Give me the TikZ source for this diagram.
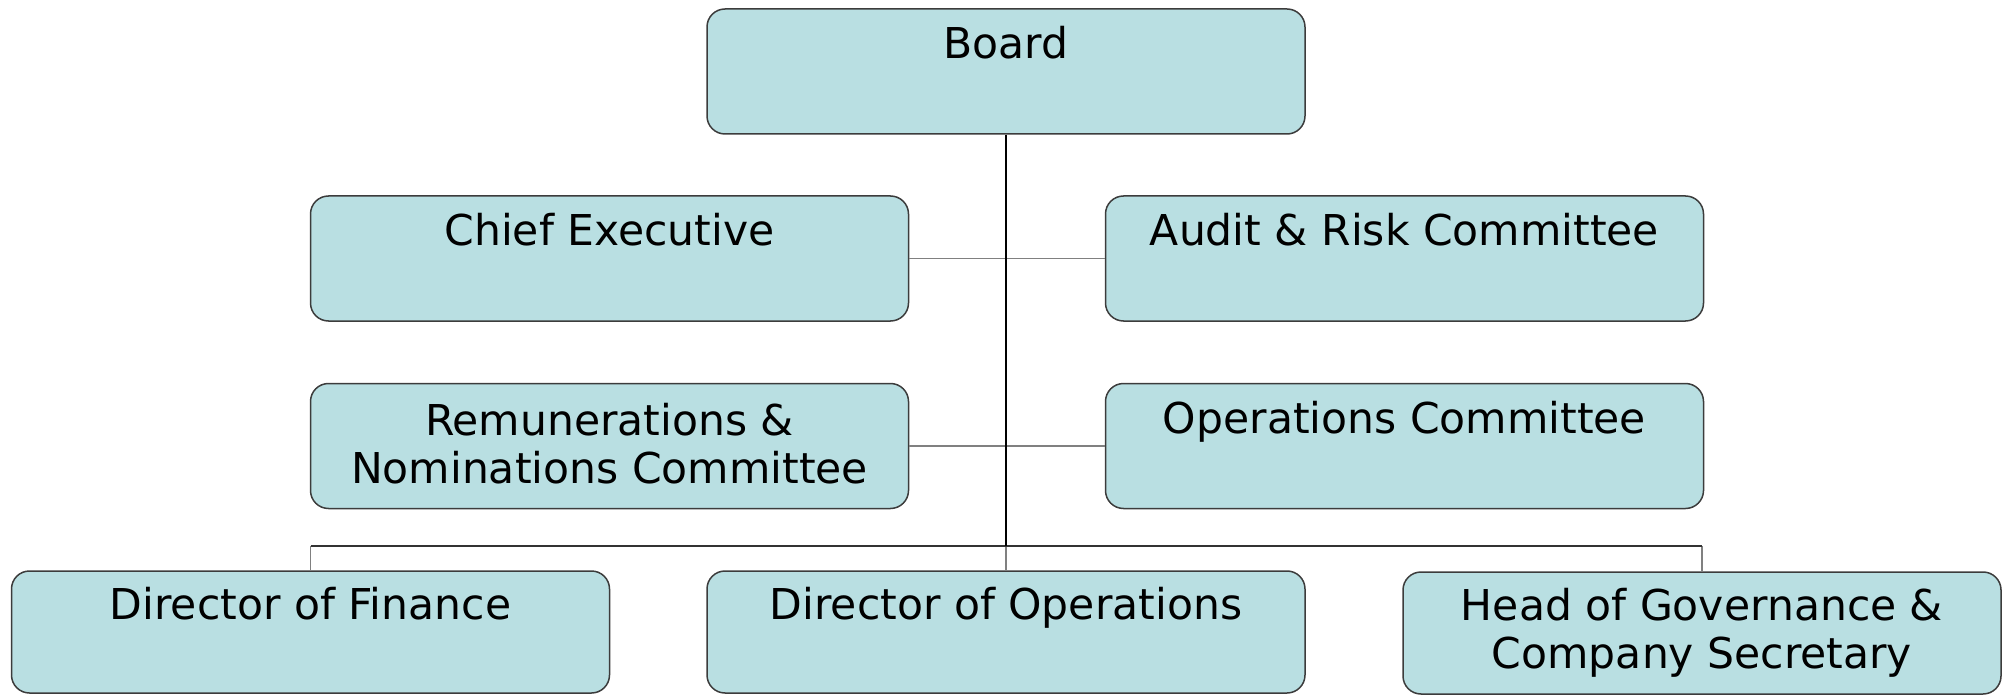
\documentclass[tikz,border=0pt]{standalone}
\usepackage{fontspec}
\setmainfont{DejaVu Sans}
\usetikzlibrary{positioning, calc}
% empty second line, so one-line titles sit near the top
\newcommand{\blankrow}{\rule[-5pt]{0pt}{5pt}}

\begin{document}
\begin{tikzpicture}[x=0.5pt, y=-0.5pt]
% --- BOXES WITH ROUNDED CORNERS, HEX COLOURS ---
\definecolor{boxfill}{HTML}{B9DFE2}
\definecolor{boxline}{HTML}{3C3C3C}
\tikzset{
  post/.style={draw=boxline, line width=0.75pt, fill=boxfill, rounded corners=9pt,
    minimum width=299pt, minimum height=62.5pt, inner sep=0pt, align=center,
    font=\fontsize{21.25}{24}\selectfont},
  lowpost/.style={post, minimum height=61pt},
  branch/.style={draw=gray, line width=0.75pt},
  trunk/.style={draw=black, line width=1pt}
}
\useasboundingbox (0,0) rectangle (2013,695);

% LAYER 1: Board and the two rows of committees
\node[post] (board) at (1006,71.5) {Board\\ \blankrow};
\node[post] (chief) at (609.5,258.5) {Chief Executive\\ \blankrow};
\node[post] (audit) at (1404.5,258.5) {Audit \& Risk Committee\\ \blankrow};
\node[post] (remco) at (609.5,446) {Remunerations \&\\ Nominations Committee\rule[-2.5pt]{0pt}{2.5pt}};
\node[post] (opsco) at (1404.5,446) {Operations Committee\\ \blankrow};

% LAYER 2: Directors (bottom row)
\node[lowpost] (finance) at (310.5,632) {Director of Finance\\ \blankrow};
\node[lowpost] (dirops) at (1006,632) {Director of Operations\\ \blankrow};
\node[lowpost] (govern) at (1702,633) {Head of Governance \&\\ Company Secretary};

% LAYER 3: Connectors
\coordinate (bus) at (1006,546);
\draw[branch] (chief.east) -- (audit.west);
\draw[branch] (remco.east) -- (opsco.west);
\draw[branch] (bus) -- (dirops.north);
\draw[branch] (finance.north |- bus) -- (finance.north);
\draw[branch] (govern.north |- bus) -- (govern.north);
\draw[draw=black!80, line width=0.75pt] (finance.north |- bus) -- (govern.north |- bus);
\draw[trunk] (board.south) -- (bus);
\end{tikzpicture}
\end{document}
